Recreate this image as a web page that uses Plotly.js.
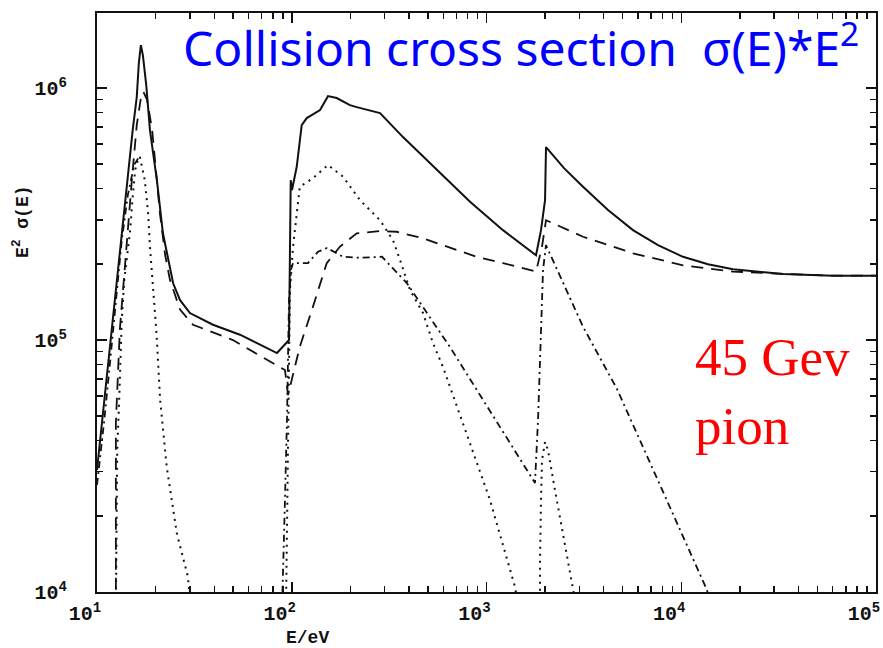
<!DOCTYPE html>
<html>
<head>
<meta charset="utf-8">
<script src="https://cdn.plot.ly/plotly-3.0.1.min.js"></script>
<style>html,body{margin:0;padding:0;background:#fff;}#chart{width:883px;height:648px;}</style>
</head>
<body>
<div id="chart"></div>
<script>
// Energy transfer E (eV) and E^2*sigma(E) values
// null separates the separate branches of one line style

// Solid: total
const totalE = [10, 10.7, 11.4, 12.4, 13.4, 14.4, 15.25, 16.0, 16.4, 16.8, 17.2, 17.9, 18.7, 20.3, 21.8, 24.6, 26.7, 30.0, 39.4, 54.2, 84.0, 96.8, 98.8, 100.3, 106, 112.5, 119.4, 139.7, 153.5, 170.2, 199, 215.6, 284, 372.6, 555, 823, 1215, 1796, 1905, 1998, 2021, 2500, 3130, 4206, 5651, 7597, 10210, 13720, 18440, 33310, 60150, 100000];
const totalV = [3.05e4, 5.04e4, 7.96e4, 1.44e5, 2.73e5, 4.52e5, 6.81e5, 9.21e5, 1.257e6, 1.48e6, 1.352e6, 1.028e6, 6.81e5, 4.31e5, 2.66e5, 1.68e5, 1.44e5, 1.28e5, 1.15e5, 1.05e5, 8.88e4, 1.0e5, 4.31e5, 3.94e5, 4.86e5, 7.13e5, 7.60e5, 8.18e5, 9.29e5, 9.13e5, 8.56e5, 8.40e5, 7.96e5, 6.39e5, 4.73e5, 3.54e5, 2.73e5, 2.17e5, 2.73e5, 3.59e5, 5.83e5, 4.81e5, 4.06e5, 3.28e5, 2.73e5, 2.38e5, 2.14e5, 2.00e5, 1.91e5, 1.83e5, 1.80e5, 1.80e5];

// Dashed
const dashE = [12.5, 12.5, 13.1, 14.1, 15.1, 16.0, 16.8, 17.3, 18.1, 19.2, 20.1, 21.1, 22.4, 23.7, 26.7, 31.1, 49.9, 92.3, 95.7, 110, 128.5, 151.2, 176.9, 215.6, 284, 345.8, 473.8, 624.6, 890.7, 1215, 1796, 1928, 2021, 3130, 5651, 10210, 18440, 33310, 60150, 100000];
const dashV = [8.5e3, 4.68e4, 1.10e5, 2.28e5, 4.31e5, 7.13e5, 9.13e5, 9.67e5, 8.96e5, 6.81e5, 4.73e5, 3.13e5, 2.17e5, 1.73e5, 1.32e5, 1.15e5, 1.0e5, 7.6e4, 6.05e4, 9.41e4, 1.356e5, 2.02e5, 2.35e5, 2.65e5, 2.71e5, 2.69e5, 2.53e5, 2.35e5, 2.14e5, 2.02e5, 1.87e5, 2.35e5, 2.99e5, 2.57e5, 2.21e5, 1.98e5, 1.87e5, 1.83e5, 1.80e5, 1.80e5];

// Dotted
const dotE = [12.5, 12.7, 13.0, 13.4, 13.8, 14.8, 15.25, 15.7, 16.3, 16.6, 17.6, 18.3, 18.7, 19.5, 20.2, 21.1, 22.8, 25.7, 29.3, 30.0, null,
              93.4, 95.7, 96.8, 97.9, 101.5, 110, 128.5, 153.5, 183.3, 224.2, 283.9, 331, 359.6, 404.8, 472.1, 531, 597.8, 823, 1042, 1401, 1451, null,
              1883, 1883, 1905, 1928, 1998, 2069, 2247, 2530, 2781, 2847];
const dotV = [8.5e3, 3.66e4, 5.78e4, 1.20e5, 1.73e5, 2.73e5, 3.70e5, 4.73e5, 5.28e5, 5.34e5, 4.31e5, 3.19e5, 2.35e5, 1.49e5, 1.066e5, 5.78e4, 3.14e4, 1.71e4, 1.15e4, 9.3e3, null,
              8.5e3, 3.66e4, 9.13e4, 1.58e5, 2.34e5, 4.06e5, 4.39e5, 4.95e5, 4.45e5, 3.59e5, 2.99e5, 2.49e5, 2.08e5, 1.58e5, 1.28e5, 9.73e4, 7.82e4, 3.90e4, 2.32e4, 1.047e4, 8.9e3, null,
              8.9e3, 1.34e4, 2.32e4, 3.34e4, 3.94e4, 3.66e4, 2.54e4, 1.54e4, 1.037e4, 9.3e3];

// Dash-dot
const dashdotE = [10, 10.9, 11.7, 12.5, 13.4, 14.4, 15.5, 16.4, 16.8, null,
                  89.1, 90.2, 92.3, 94.5, 95.7, 96.8, 99.1, 101.5, 121.2, 136.4, 151.7, 183.3, 224.2, 290.8, 319.5, 390.7, 472.1, 649.5, 926, 1320, 1774, 1839, 1905, 1951, 2021, 3130, 4679, 6911, 9853, 13560, 13890];
const dashdotV = [2.66e4, 4.81e4, 8.33e4, 1.44e5, 2.49e5, 3.76e5, 4.95e5, 5.32e5, 5.34e5, null,
                  8.5e3, 1.34e4, 2.32e4, 4.81e4, 9.13e4, 1.44e5, 1.90e5, 2.02e5, 2.02e5, 2.24e5, 2.32e5, 2.14e5, 2.12e5, 2.14e5, 1.98e5, 1.68e5, 1.35e5, 9.38e4, 6.05e4, 3.90e4, 2.71e4, 4.81e4, 1.10e5, 1.90e5, 2.38e5, 1.13e5, 6.39e4, 3.25e4, 1.76e4, 1.018e4, 9.3e3];

// Axis tick labels (trailing no-break spaces nudge the x labels left, as in the original)
const xTickVals = [10, 100, 1000, 10000, 100000];
const xTickText = ['10<sup>1</sup>\u00a0\u00a0', '10<sup>2</sup>\u00a0\u00a0', '10<sup>3</sup>\u00a0\u00a0', '10<sup>4</sup>\u00a0\u00a0', '10<sup>5</sup>\u00a0\u00a0'];
const yTickVals = [1e4, 1e5, 1e6];
const yTickText = ['10<sup>4</sup>', '10<sup>5</sup>', '10<sup>6</sup>'];

const titleText = 'Collision cross section\u00a0\u00a0σ(E)*E<sup>2</sup>';
const noteText = '45 Gev<br>pion';
const xTitle = 'E/eV';
const yTitle = 'E<sup>2</sup>\u00a0σ(E)';

// minor tick positions (2..9 within each decade)
function minorTicks(lo, hi) {
  const out = [];
  for (let d = lo; d < hi; d++) for (let m = 2; m <= 9; m++) out.push(m * Math.pow(10, d));
  return out;
}

const ink = '#111';
const traces = [
  {x: dashdotE, y: dashdotV, mode: 'lines', line: {color: ink, width: 1.8, dash: '7px,4px,2px,4px'}, connectgaps: false, hoverinfo: 'skip'},
  {x: dotE, y: dotV, mode: 'lines', line: {color: ink, width: 2, dash: '2px,5px'}, connectgaps: false, hoverinfo: 'skip'},
  {x: dashE, y: dashV, mode: 'lines', line: {color: ink, width: 1.8, dash: '12px,8px'}, hoverinfo: 'skip'},
  {x: totalE, y: totalV, mode: 'lines', line: {color: ink, width: 2}, hoverinfo: 'skip'}
];

function axisBase() {
  return {
    type: 'log', showgrid: false, zeroline: false,
    showline: true, linecolor: ink, linewidth: 2, mirror: 'allticks',
    ticks: 'inside', ticklen: 10, tickwidth: 1.5, tickcolor: ink,
    tickmode: 'array', ticklabeloverflow: 'allow',
    tickfont: {family: 'Liberation Mono', size: 20, color: ink, weight: 'bold'}
  };
}

const layout = {
  width: 883, height: 648,
  margin: {l: 97, r: 7, t: 13, b: 56},
  paper_bgcolor: '#fff', plot_bgcolor: '#fff',
  showlegend: false,
  xaxis: Object.assign(axisBase(), {range: [1, 5], tickvals: xTickVals, ticktext: xTickText, ticklabelstandoff: 2,
    minor: {ticks: 'inside', ticklen: 6, tickwidth: 1.4, tickcolor: ink, tickmode: 'array', tickvals: minorTicks(1, 5), showgrid: false}}),
  yaxis: Object.assign(axisBase(), {range: [4, 6.298], tickvals: yTickVals, ticktext: yTickText, ticklabelstandoff: 24,
    minor: {ticks: 'inside', ticklen: 6, tickwidth: 1.4, tickcolor: ink, tickmode: 'array', tickvals: minorTicks(4, 7), showgrid: false}}),
  annotations: [
    {text: titleText, xref: 'paper', yref: 'paper', x: 0.108, y: 0.944, xanchor: 'left', yanchor: 'middle', showarrow: false,
     font: {family: 'Noto Sans', size: 48, color: '#0000ff'}},
    {text: noteText, xref: 'paper', yref: 'paper', x: 0.765, y: 0.46, xanchor: 'left', yanchor: 'top', align: 'left', showarrow: false,
     font: {family: 'Liberation Serif', size: 53, color: '#ff0000'}},
    {text: xTitle, xref: 'paper', yref: 'paper', x: 0.27, y: -0.08, xanchor: 'center', yanchor: 'middle', showarrow: false,
     font: {family: 'Liberation Mono', size: 18, color: ink, weight: 'bold'}},
    {text: yTitle, xref: 'paper', yref: 'paper', x: -0.097, y: 0.64, xanchor: 'center', yanchor: 'middle', textangle: -90, showarrow: false,
     font: {family: 'Liberation Mono', size: 18, color: ink, weight: 'bold'}}
  ]
};

Plotly.newPlot('chart', traces, layout, {staticPlot: true, displayModeBar: false});
</script>
</body>
</html>
